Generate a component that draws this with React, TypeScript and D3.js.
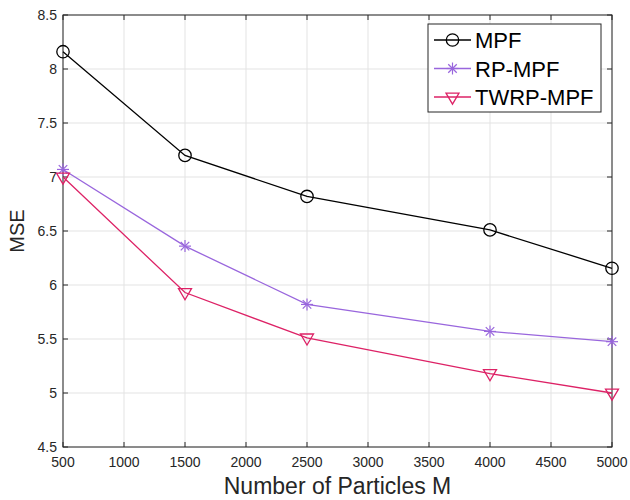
import * as d3 from 'd3';
import React from 'react';

// particle counts on the x axis
const particles = [500, 1500, 2500, 4000, 5000];
const mpf = [8.16, 7.2, 6.82, 6.51, 6.155];
const rpMpf = [7.07, 6.36, 5.82, 5.57, 5.475];
const twrpMpf = [7.0, 5.93, 5.51, 5.18, 5.0];

const xTicks = [500, 1000, 1500, 2000, 2500, 3000, 3500, 4000, 4500, 5000];
const yTicks = [4.5, 5, 5.5, 6, 6.5, 7, 7.5, 8, 8.5];

const seriesNames = ['MPF', 'RP-MPF', 'TWRP-MPF'];
const seriesData = [mpf, rpMpf, twrpMpf];
const seriesColors = ['#000000', '#9966dd', '#dd2266'];
const seriesMarkers = ['circle', 'star', 'triangle'];

const font = 'Liberation Sans, Arial, Helvetica, sans-serif';
const axisColor = '#262626';

const Marker = ({ type, x, y, color }: { type: string; x: number; y: number; color: string }) => {
  if (type === 'circle') {
    return <circle cx={x} cy={y} r={6.2} fill="none" stroke={color} strokeWidth={1.3} />;
  }
  if (type === 'star') {
    const r = 6;
    const d = r * Math.SQRT1_2;
    return (
      <g stroke={color} strokeWidth={1.2}>
        <line x1={x - r} y1={y} x2={x + r} y2={y} />
        <line x1={x} y1={y - r} x2={x} y2={y + r} />
        <line x1={x - d} y1={y - d} x2={x + d} y2={y + d} />
        <line x1={x - d} y1={y + d} x2={x + d} y2={y - d} />
      </g>
    );
  }
  // downward triangle
  const s = 6.5;
  const pts = [[x - s, y - s * 0.6], [x + s, y - s * 0.6], [x, y + s * 1.1]];
  return <polygon points={pts.map((p) => p.join(',')).join(' ')} fill="none" stroke={color} strokeWidth={1.3} />;
};

const App = () => {
  const width = 630;
  const height = 500;
  const margin = { top: 15, right: 18, bottom: 53, left: 63 };
  const innerW = width - margin.left - margin.right;
  const innerH = height - margin.top - margin.bottom;

  const x = d3.scaleLinear().domain([500, 5000]).range([margin.left, margin.left + innerW]);
  const y = d3.scaleLinear().domain([4.5, 8.5]).range([margin.top + innerH, margin.top]);

  const line = d3
    .line<number>()
    .x((_, i) => x(particles[i]))
    .y((d) => y(d));

  const left = margin.left;
  const right = margin.left + innerW;
  const top = margin.top;
  const bottom = margin.top + innerH;
  const tickLen = 5;

  // legend box
  const lg = { x: 428, y: 24, w: 173, h: 88 };

  return (
    <svg width={width} height={height} style={{ position: 'absolute', left: 0, top: 0 }} fontFamily={font}>
      <rect x={0} y={0} width={width} height={height} fill="#ffffff" />

      {/* grid */}
      <g stroke="#e3e3e3" strokeWidth={1}>
        {xTicks.map((t) => (
          <line key={'gx' + t} x1={x(t)} x2={x(t)} y1={top} y2={bottom} />
        ))}
        {yTicks.map((t) => (
          <line key={'gy' + t} x1={left} x2={right} y1={y(t)} y2={y(t)} />
        ))}
      </g>

      {/* axes box */}
      <rect x={left} y={top} width={innerW} height={innerH} fill="none" stroke={axisColor} strokeWidth={1} />

      {/* ticks */}
      <g stroke={axisColor} strokeWidth={1}>
        {xTicks.map((t) => (
          <g key={'tx' + t}>
            <line x1={x(t)} x2={x(t)} y1={bottom} y2={bottom - tickLen} />
            <line x1={x(t)} x2={x(t)} y1={top} y2={top + tickLen} />
          </g>
        ))}
        {yTicks.map((t) => (
          <g key={'ty' + t}>
            <line x1={left} x2={left + tickLen} y1={y(t)} y2={y(t)} />
            <line x1={right} x2={right - tickLen} y1={y(t)} y2={y(t)} />
          </g>
        ))}
      </g>

      {/* tick labels */}
      <g fill={axisColor} fontSize={14}>
        {xTicks.map((t) => (
          <text key={'lx' + t} x={x(t)} y={bottom + 20} textAnchor="middle">
            {t}
          </text>
        ))}
        {yTicks.map((t) => (
          <text key={'ly' + t} x={left - 6} y={y(t) + 5} textAnchor="end">
            {t}
          </text>
        ))}
      </g>

      {/* axis labels */}
      <text x={(left + right) / 2} y={494} textAnchor="middle" fontSize={23} fill={axisColor}>
        Number of Particles M
      </text>
      <text
        transform={`translate(24, ${(top + bottom) / 2}) rotate(-90)`}
        textAnchor="middle"
        fontSize={20}
        fill={axisColor}
      >
        MSE
      </text>

      {/* series */}
      {seriesData.map((data, si) => (
        <g key={seriesNames[si]}>
          <path d={line(data) || ''} fill="none" stroke={seriesColors[si]} strokeWidth={1.3} />
          {data.map((v, i) => (
            <Marker key={i} type={seriesMarkers[si]} x={x(particles[i])} y={y(v)} color={seriesColors[si]} />
          ))}
        </g>
      ))}

      {/* legend */}
      <rect x={lg.x} y={lg.y} width={lg.w} height={lg.h} fill="#ffffff" stroke={axisColor} strokeWidth={1} />
      {seriesNames.map((name, i) => {
        const cy = lg.y + 16 + i * 28.5;
        return (
          <g key={'lg' + name}>
            <line x1={lg.x + 6} x2={lg.x + 43} y1={cy} y2={cy} stroke={seriesColors[i]} strokeWidth={1.3} />
            <Marker type={seriesMarkers[i]} x={lg.x + 24.5} y={cy} color={seriesColors[i]} />
            <text x={lg.x + 47} y={cy + 8} fontSize={22} fill="#000000">
              {name}
            </text>
          </g>
        );
      })}
    </svg>
  );
};

export default App;
